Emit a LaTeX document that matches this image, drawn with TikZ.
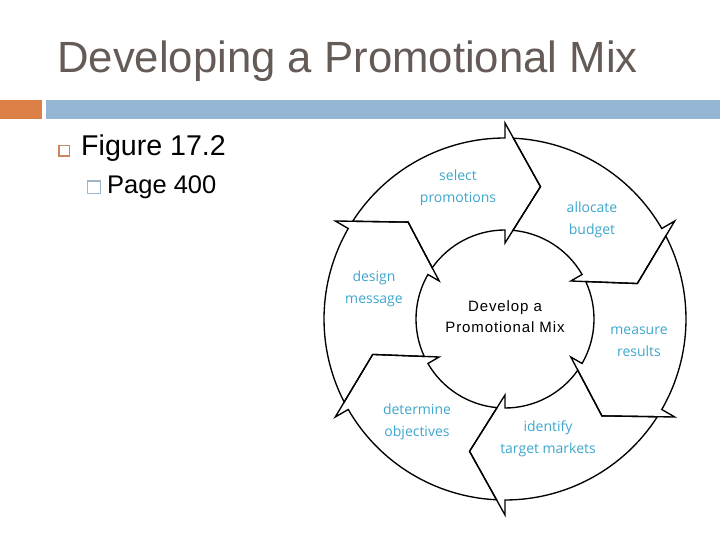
\documentclass[tikz,border=0pt]{standalone}
\usepackage{fontspec}
\setmainfont{Liberation Sans}
\newfontfamily\labfont{Open Sans}
\newfontfamily\ctrfont[LetterSpace=6]{Liberation Sans}
\definecolor{barorange}{RGB}{221,128,71}
\definecolor{barblue}{RGB}{148,182,210}
\definecolor{titlegray}{RGB}{100,90,86}
\definecolor{labteal}{RGB}{62,166,204}
\definecolor{bulorange}{RGB}{205,135,95}
\definecolor{bulblue}{RGB}{160,182,200}
\begin{document}
\begin{tikzpicture}[x=1pt,y=1pt,
  txt/.style={inner sep=0pt, anchor=base west},
  seglab/.style={inner sep=0pt, anchor=base, align=center, text=labteal,
    font=\labfont\fontsize{14}{21.5}\selectfont},
  segline/.style={draw=black, line width=1.35pt, line join=miter}]
\useasboundingbox (0,0) rectangle (720,540);
% header bars
\fill[barorange] (0,421) rectangle (41.5,440);
\fill[barblue] (45.7,421) rectangle (720,440);
% title
\node[txt, text=titlegray, font=\fontsize{43.7}{48}\selectfont] (title) at (57,467) {Developing a Promotional Mix};
% bullets
\draw[bulorange, line width=1.6pt] (59,384) rectangle (69.5,394.5);
\node[txt, font=\fontsize{28.6}{32}\selectfont] (fig) at (81,384) {Figure 17.2};
\draw[bulblue, line width=1.2pt] (87.5,346.5) rectangle (100.5,359);
\node[txt, font=\fontsize{25.5}{28}\selectfont] (page) at (107,346) {Page 400};
% cycle
\begin{scope}[shift={(505,221)}]
\foreach \T in {150,90,30,-30,-90,210}{
  \pgfmathsetmacro\H{\T-60}
  \pgfmathsetmacro\Ao{\T-2.68}
  \pgfmathsetmacro\Ai{\T-5.13}
  \pgfmathsetmacro\Tip{\T-75}
  \pgfmathsetmacro\N{\T-15}
  \draw[segline] (\Ao:181pt) arc[start angle=\Ao, end angle=\H, radius=181pt]
    -- (\H:196pt) -- (\Tip:137pt) -- (\H:76pt) -- (\H:89pt)
    arc[start angle=\H, end angle=\Ai, radius=89pt] -- (\N:137pt) -- cycle;
}
\end{scope}
% labels (anchor=base is the baseline of the last line)
\node[seglab] (sel) at (458,337.5) {select\\promotions};
\node[seglab] (alloc) at (592,305.5) {allocate\\budget};
\node[seglab] (meas) at (639,183.5) {measure\\results};
\node[seglab] (ident) at (548,86.5) {identify\\target markets};
\node[seglab] (det) at (417,103.5) {determine\\objectives};
\node[seglab] (des) at (374,236.5) {design\\message};
\node[inner sep=0pt, anchor=base, align=center, font=\ctrfont\fontsize{15}{21.3}\selectfont] (center) at (505,207) {Develop a\\Promotional Mix};
\end{tikzpicture}
\end{document}
